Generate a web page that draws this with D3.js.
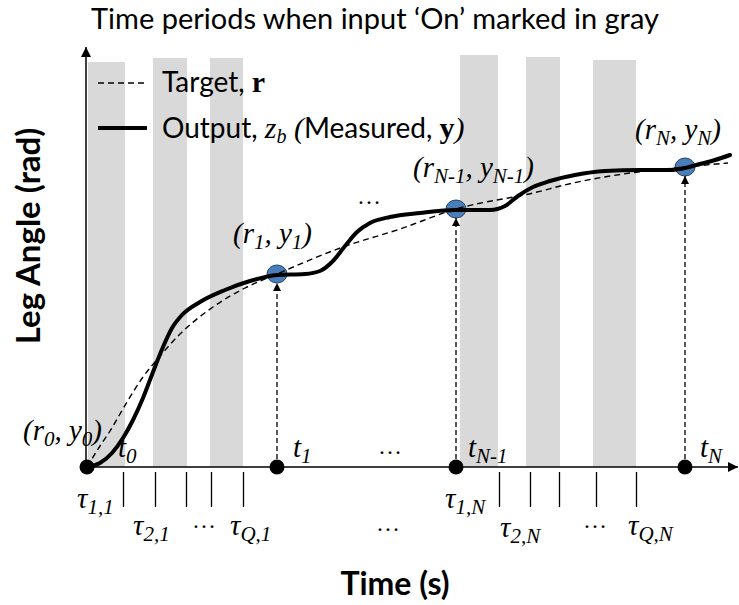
<!DOCTYPE html>
<html><head><meta charset="utf-8">
<script src="https://cdn.jsdelivr.net/npm/d3@7"></script>
<style>body{margin:0;background:#fff} svg{display:block}</style>
</head><body><svg id="c" width="739" height="605"></svg>
<script>
// ---------- data ----------
const titleText = "Time periods when input \u2018On\u2019 marked in gray";
const xLabel = "Time (s)";
const yLabel = "Leg Angle (rad)";

// gray "input On" periods (time units)
const bandStart = [1, 66, 123, 373, 439, 506];
const bandEnd   = [38, 100, 156, 411, 473, 549];
const bandTop   = [405, 409, 409, 412, 410, 407];

// tau tick times below the axis
const tickTimes = [36, 68, 99, 124, 156, 412, 443, 472, 509, 549];

// sample instants t_k and measured values
const sampleTimes  = [0, 190, 369, 598];
const sampleValues = [0, 193, 258, 300];
const sampleSub    = ["0", "1", "N-1", "N"];

// target r (dashed)
const targetT = [0, 13, 23, 40, 56, 73, 93, 126, 158, 190, 256, 313, 369, 446, 486, 536, 598, 641];
const targetV = [0, 21, 36, 65, 90, 111, 133, 160, 179, 193, 220, 238, 258, 274, 284, 293, 300, 304];

// output z_b (solid)
const outputT = [0, 13, 25, 36, 46, 56, 66, 76, 85, 95, 113, 138, 163, 190, 218, 233, 246, 258, 270, 283, 303, 333, 369, 403, 418, 431, 446, 463, 488, 518, 553, 583, 598, 613, 628, 643];
const outputV = [0, 4, 14, 29, 47, 69, 95, 120, 139, 152, 165, 177, 186, 192, 193, 196, 206, 221, 235, 244, 250, 254, 257, 257, 261, 271, 280, 286, 292, 296, 297, 297, 299, 303, 307, 312];

// tau labels
const tauSub = ["1,1", "2,1", "Q,1", "1,N", "2,N", "Q,N"];

// ---------- layout ----------
const SANS = "Lato, 'Open Sans', sans-serif";
const SERIF = "'Liberation Serif', 'DejaVu Serif', serif";
const svg = d3.select("#c");
const x = d3.scaleLinear().domain([0, 650]).range([87, 737]);
const y = d3.scaleLinear().domain([0, 420]).range([467, 47]);

const defs = svg.append("defs");
function marker(id, w, h) {
  defs.append("marker").attr("id", id)
    .attr("viewBox", "0 0 10 10").attr("refX", 10).attr("refY", 5)
    .attr("markerWidth", w).attr("markerHeight", h)
    .attr("markerUnits", "userSpaceOnUse").attr("orient", "auto")
    .append("path").attr("d", "M0,0 L10,5 L0,10 Z").attr("fill", "#000");
}
marker("axArrow", 12, 10);
marker("smArrow", 10, 8);

// bands
svg.append("g").selectAll("rect").data(bandStart).join("rect")
  .attr("x", (d) => x(d))
  .attr("width", (d, i) => x(bandEnd[i]) - x(d))
  .attr("y", (d, i) => y(bandTop[i]))
  .attr("height", (d, i) => y(0) - y(bandTop[i]))
  .attr("fill", "#d9d9d9");

// axes
svg.append("line").attr("x1", x(0) - 1).attr("x2", x(0) - 1).attr("y1", y(0)).attr("y2", y(420))
  .attr("stroke", "#000").attr("stroke-width", 1.5).attr("marker-end", "url(#axArrow)");
svg.append("line").attr("x1", x(0) - 1).attr("x2", x(651)).attr("y1", y(0)).attr("y2", y(0))
  .attr("stroke", "#000").attr("stroke-width", 1.5).attr("marker-end", "url(#axArrow)");

// tau ticks
const tickG = svg.append("g").attr("transform", `translate(0,${y(0) + 5})`)
  .call(d3.axisBottom(x).tickValues(tickTimes).tickSize(35).tickFormat(""));
tickG.select(".domain").remove();
tickG.selectAll("line").attr("stroke", "#000").attr("stroke-width", 1.3);

// sample circles (under lines)
svg.append("g").selectAll("ellipse").data(sampleTimes.slice(1)).join("ellipse")
  .attr("cx", (d) => x(d)).attr("cy", (d, i) => y(sampleValues[i + 1]))
  .attr("rx", 10).attr("ry", 9).attr("fill", "#4a7ebb").attr("stroke", "#243f60").attr("stroke-width", 1);

// target
const line = d3.line().curve(d3.curveMonotoneX);
svg.append("path")
  .attr("d", line(targetT.map((t, i) => [x(t), y(targetV[i])])))
  .attr("fill", "none").attr("stroke", "#000").attr("stroke-width", 1.4).attr("stroke-dasharray", "6,4");

// vertical dashed arrows
svg.append("g").selectAll("line").data(sampleTimes.slice(1)).join("line")
  .attr("x1", (d) => x(d)).attr("x2", (d) => x(d))
  .attr("y1", y(0)).attr("y2", (d, i) => y(sampleValues[i + 1]) + 9)
  .attr("stroke", "#000").attr("stroke-width", 1.3).attr("stroke-dasharray", "5,3")
  .attr("marker-end", "url(#smArrow)");

// output
svg.append("path")
  .attr("d", line(outputT.map((t, i) => [x(t), y(outputV[i])])))
  .attr("fill", "none").attr("stroke", "#000").attr("stroke-width", 4).attr("stroke-linecap", "round");

// axis dots
svg.append("g").selectAll("circle").data(sampleTimes).join("circle")
  .attr("cx", (d) => x(d)).attr("cy", y(0)).attr("r", 7.5).attr("fill", "#000");

// ---------- text ----------
function rich(px, py, parts, size, sub, shift) {
  const t = svg.append("text").attr("x", px).attr("y", py);
  let prevSub = false;
  parts.forEach((p) => {
    const s = t.append("tspan").text(p.t)
      .attr("font-family", p.sans ? SANS : SERIF)
      .attr("font-size", p.sub ? sub : (p.size || size))
      .attr("font-style", p.sans || p.up ? "normal" : "italic")
      .attr("font-weight", p.b ? "bold" : "normal");
    if (p.sub && !prevSub) s.attr("dy", shift);
    if (!p.sub && prevSub) s.attr("dy", -shift);
    prevSub = !!p.sub;
  });
  return t;
}

// title
svg.append("text").attr("x", 375).attr("y", 29).attr("text-anchor", "middle")
  .attr("font-family", SANS).attr("font-size", 29).text(titleText);

// axis titles
svg.append("text").attr("x", 395).attr("y", 595).attr("text-anchor", "middle")
  .attr("font-family", SANS).attr("font-weight", "bold").attr("font-size", 32).text(xLabel);
svg.append("text").attr("transform", "translate(40,236) rotate(-90)").attr("text-anchor", "middle")
  .attr("font-family", SANS).attr("font-weight", "bold").attr("font-size", 33).text(yLabel);

// legend
svg.append("line").attr("x1", 98).attr("x2", 147).attr("y1", 83).attr("y2", 83)
  .attr("stroke", "#000").attr("stroke-width", 1.3).attr("stroke-dasharray", "6,4");
rich(162, 92, [{t: "Target, ", sans: true}, {t: "r", b: true, up: true, size: 30}], 28, 20, 5);
svg.append("line").attr("x1", 98).attr("x2", 147).attr("y1", 128).attr("y2", 128)
  .attr("stroke", "#000").attr("stroke-width", 4);
rich(162, 138, [
  {t: "Output, ", sans: true}, {t: "z", size: 30}, {t: "b", sub: true}, {t: " (", size: 30},
  {t: "Measured, ", sans: true}, {t: " y", b: true, up: true, size: 30}, {t: ")", size: 30}
], 28, 20, 5);

// point labels
const MS = 29, SS = 21, SH = 6;
const ptLabelPos = [[23, 440], [233, 243], [413, 177], [635, 139]];
sampleSub.forEach((s, i) => {
  rich(ptLabelPos[i][0], ptLabelPos[i][1], [
    {t: "(r"}, {t: s, sub: true}, {t: ", y"}, {t: s, sub: true}, {t: ")"}
  ], MS, SS, SH);
});

// t labels
const tLabelDx = [31, 16, 12, 15];
sampleTimes.forEach((t, i) => {
  rich(x(t) + tLabelDx[i], 457, [{t: "t"}, {t: sampleSub[i], sub: true}], MS, SS, SH);
});

// tau labels
const tauPos = [[77, 508], [133, 535], [230, 535], [445, 508], [500, 537], [628, 535]];
tauSub.forEach((s, i) => {
  rich(tauPos[i][0], tauPos[i][1], [{t: "\u03C4"}, {t: s, sub: true}], MS, SS, SH);
});

// ellipses
const dots = [[192, 528], [376, 531], [583, 528], [378, 454], [357, 204]];
dots.forEach((d) => {
  svg.append("text").attr("x", d[0]).attr("y", d[1]).attr("font-family", SERIF)
    .attr("font-size", 24).text("\u2026");
});
</script></body></html>
